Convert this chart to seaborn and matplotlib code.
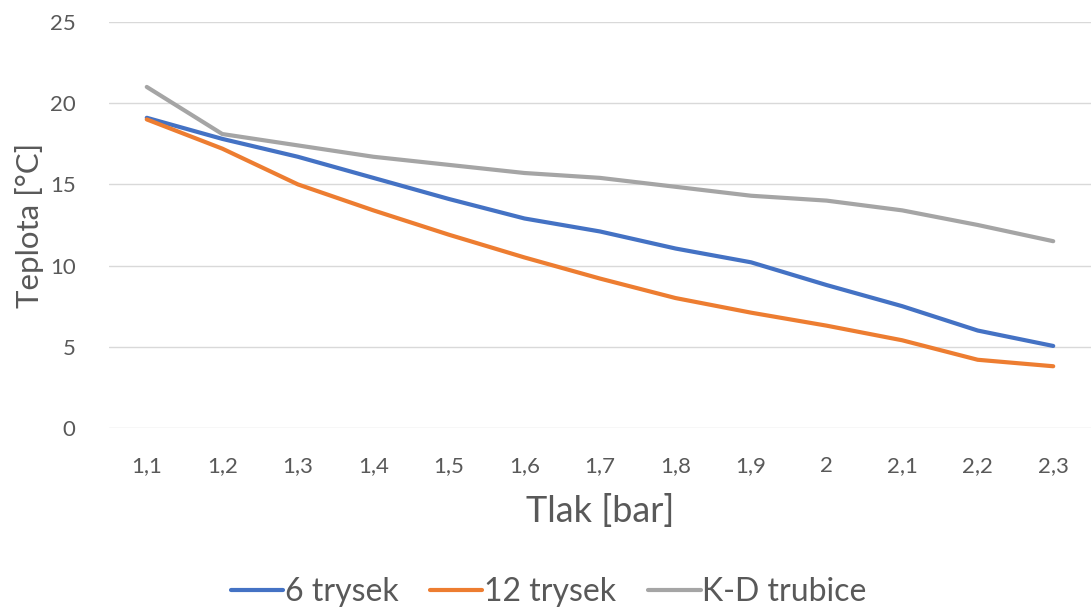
import matplotlib
matplotlib.use('Agg')
import matplotlib.pyplot as plt
import pandas as pd
import seaborn as sns

# data
tlak = ['1,1', '1,2', '1,3', '1,4', '1,5', '1,6', '1,7', '1,8', '1,9', '2', '2,1', '2,2', '2,3']
trysek_6 = [19.1, 17.8, 16.7, 15.4, 14.1, 12.9, 12.1, 11.05, 10.2, 8.8, 7.5, 6.0, 5.05]
trysek_12 = [19.0, 17.2, 15.0, 13.4, 11.9, 10.5, 9.2, 8.0, 7.1, 6.3, 5.4, 4.2, 3.8]
kd_trubice = [21.0, 18.1, 17.4, 16.7, 16.2, 15.7, 15.4, 14.85, 14.3, 14.0, 13.4, 12.5, 11.5]

series = ['6 trysek', '12 trysek', 'K-D trubice']
colors = ['#4472C4', '#ED7D31', '#A5A5A5']

df = pd.DataFrame({'Tlak': tlak * 3,
                   'Teplota': trysek_6 + trysek_12 + kd_trubice,
                   'serie': [s for s in series for _ in tlak]})

sns.set_style('white')
plt.rcParams['font.family'] = ['Lato', 'DejaVu Sans']

fig = plt.figure(figsize=(10.91, 6.12), dpi=100)
ax = fig.add_axes([0.0999, 0.3007, 0.9001, 0.6634])

sns.lineplot(data=df, x='Tlak', y='Teplota', hue='serie', hue_order=series,
             palette=colors, linewidth=3.0, ax=ax, legend=False, sort=False)

ax.set_xlim(-0.5, len(tlak) - 0.5)
ax.set_ylim(0, 25)
ax.set_yticks([0, 5, 10, 15, 20, 25])
ax.grid(axis='y', color='#D9D9D9', linewidth=1.0)
ax.set_axisbelow(True)
for s in ax.spines.values():
    s.set_visible(False)
ax.tick_params(axis='both', length=0, labelsize=16, colors='#595959')
ax.tick_params(axis='x', pad=20)
ax.tick_params(axis='y', pad=24)

ax.set_xlabel('Tlak [bar]', fontsize=26, color='#595959', labelpad=13)
ax.set_ylabel('Teplota [°C]', fontsize=22.5, color='#595959', labelpad=4)

handles = [plt.Line2D([], [], color=c, linewidth=3.0) for c in colors]
fig.legend(handles, series, loc='center', bbox_to_anchor=(0.503, 0.033), ncol=3,
           frameon=False, fontsize=23, handlelength=1.63, handletextpad=0.06,
           columnspacing=1.0, labelcolor='#595959')

plt.savefig('out.png', dpi=100)
